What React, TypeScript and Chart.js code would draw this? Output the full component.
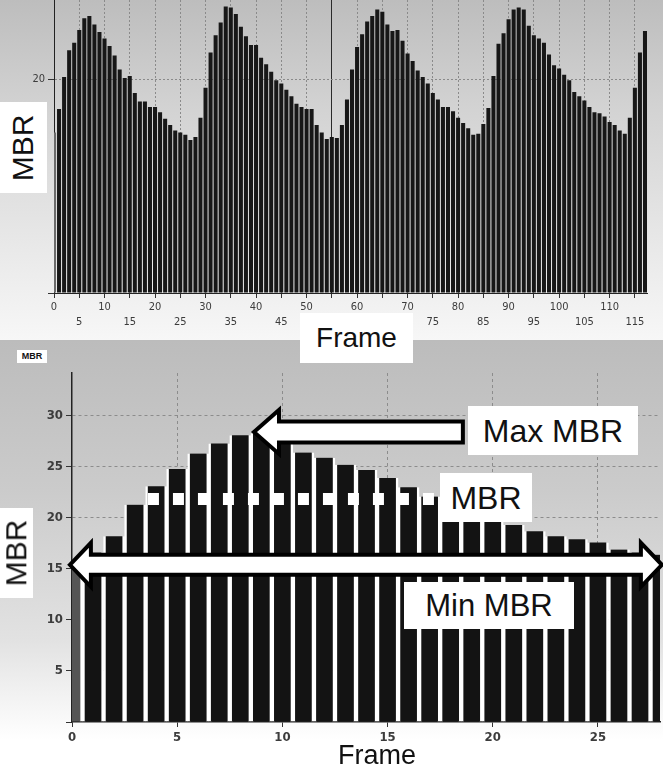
import React, { useEffect, useRef } from 'react';
import { Chart, registerables } from 'chart.js';

Chart.register(...registerables);

// ---------- Upper panel data ----------
const TOP_FRAMES = [
  0, 1, 2, 3, 4, 5, 6, 7, 8, 9, 10, 11, 12, 13, 14, 15, 16, 17, 18, 19,
  20, 21, 22, 23, 24, 25, 26, 27, 28, 29, 30, 31, 32, 33, 34, 35, 36, 37, 38, 39,
  40, 41, 42, 43, 44, 45, 46, 47, 48, 49, 50, 51, 52, 53, 54, 55, 56, 57, 58, 59,
  60, 61, 62, 63, 64, 65, 66, 67, 68, 69, 70, 71, 72, 73, 74, 75, 76, 77, 78, 79,
  80, 81, 82, 83, 84, 85, 86, 87, 88, 89, 90, 91, 92, 93, 94, 95, 96, 97, 98, 99,
  100, 101, 102, 103, 104, 105, 106, 107, 108, 109, 110, 111, 112, 113, 114, 115, 116, 117,
];
const TOP_MBR = [
  15.0, 17.2, 20.2, 22.7, 23.4, 24.6, 25.7, 25.9, 25.1, 24.4,
  23.8, 23.1, 22.2, 20.9, 20.1, 20.3, 18.7, 17.9, 17.9, 17.4,
  17.4, 16.9, 16.3, 15.7, 15.2, 15.0, 14.8, 14.3, 14.6, 16.4,
  19.2, 22.5, 24.1, 25.3, 26.8, 26.7, 26.1, 24.9, 24.0, 23.2,
  23.2, 22.0, 21.4, 20.7, 19.9, 19.6, 19.0, 18.4, 17.7, 17.4,
  17.2, 17.2, 15.7, 15.0, 14.4, 14.6, 14.5, 15.7, 18.1, 20.9,
  23.0, 24.2, 25.4, 25.9, 26.5, 26.3, 25.1, 24.5, 24.6, 23.6,
  22.4, 21.7, 20.8, 20.2, 19.6, 18.7, 18.1, 17.4, 17.4, 17.0,
  16.4, 15.9, 15.4, 14.8, 14.9, 15.8, 17.3, 20.3, 23.3, 24.3,
  25.6, 26.5, 26.7, 26.5, 25.0, 24.1, 23.8, 23.4, 22.3, 21.3,
  21.0, 20.4, 19.9, 18.8, 18.4, 18.0, 17.4, 16.9, 16.8, 16.5,
  16.0, 15.7, 15.2, 14.9, 16.4, 19.2, 22.5, 24.5,
];
const TOP_X_TICKS = [0, 5, 10, 15, 20, 25, 30, 35, 40, 45, 50, 55, 60, 65, 70, 75, 80, 85, 90, 95, 100, 105, 110, 115];
const TOP_Y_TICKS = [0, 20];
const TOP_CURSOR_FRAME = 55;

// ---------- Lower panel data ----------
const BOTTOM_FRAMES = [
  0, 1, 2, 3, 4, 5, 6, 7, 8, 9, 10, 11, 12, 13, 14,
  15, 16, 17, 18, 19, 20, 21, 22, 23, 24, 25, 26, 27, 28,
];
const BOTTOM_MBR = [
  15.4, 16.6, 18.2, 21.3, 23.1, 24.8, 26.3, 27.3, 28.1, 28.3,
  27.7, 26.4, 25.9, 25.2, 24.7, 23.9, 23.0, 22.1, 19.6, 19.6,
  19.6, 19.3, 18.7, 18.2, 17.9, 17.6, 16.9, 16.6, 16.4,
];
const BOTTOM_X_TICKS = [0, 5, 10, 15, 20, 25];
const BOTTOM_Y_TICKS = [0, 5, 10, 15, 20, 25, 30];

// annotation anchors (data units of the lower panel)
const MEAN_MBR = 21.86;
const MEAN_FROM_FRAME = 3.61;
const MEAN_TO_FRAME = 17.4;
const MAX_ARROW_MBR = 28.43;
const MAX_ARROW_TIP_FRAME = 8.65;
const MAX_ARROW_END_FRAME = 18.58;
const MIN_ARROW_MBR = 15.4;
const MIN_ARROW_LEFT_FRAME = -0.1;
const MIN_ARROW_RIGHT_FRAME = 28.04;

const TICK_FONT = "'Liberation Sans Narrow','DejaVu Sans Condensed','Arial Narrow','Liberation Sans',sans-serif";
const LABEL_FONT = "'Liberation Sans',Arial,Helvetica,sans-serif";

const zeroPad = (s: any) => {
  s.paddingTop = 0;
  s.paddingBottom = 0;
  s.paddingLeft = 0;
  s.paddingRight = 0;
};

const annotationPlugin = {
  id: 'mbrAnnotations',
  afterDatasetsDraw(chart: any) {
    const { ctx, scales } = chart;
    const x = scales.x;
    const y = scales.y;
    ctx.save();
    // dashed MBR (mean) line
    const my = y.getPixelForValue(MEAN_MBR);
    ctx.strokeStyle = '#ffffff';
    ctx.lineWidth = 12;
    ctx.lineCap = 'butt';
    ctx.setLineDash([11, 14]);
    ctx.beginPath();
    ctx.moveTo(x.getPixelForValue(MEAN_FROM_FRAME), my);
    ctx.lineTo(x.getPixelForValue(MEAN_TO_FRAME), my);
    ctx.stroke();
    ctx.setLineDash([]);

    ctx.lineJoin = 'miter';
    ctx.lineWidth = 4;
    ctx.strokeStyle = '#000000';
    ctx.fillStyle = '#ffffff';

    // Max MBR arrow (pointing left)
    const ty = y.getPixelForValue(MAX_ARROW_MBR);
    const tx = x.getPixelForValue(MAX_ARROW_TIP_FRAME);
    const ex = x.getPixelForValue(MAX_ARROW_END_FRAME);
    const hl = 25, hh = 22, sh = 10.5;
    ctx.beginPath();
    ctx.moveTo(tx, ty);
    ctx.lineTo(tx + hl, ty - hh);
    ctx.lineTo(tx + hl, ty - sh);
    ctx.lineTo(ex, ty - sh);
    ctx.lineTo(ex, ty + sh);
    ctx.lineTo(tx + hl, ty + sh);
    ctx.lineTo(tx + hl, ty + hh);
    ctx.closePath();
    ctx.fill();
    ctx.stroke();

    // Min MBR double arrow
    const ay = y.getPixelForValue(MIN_ARROW_MBR);
    const lx = x.getPixelForValue(MIN_ARROW_LEFT_FRAME);
    const rx = x.getPixelForValue(MIN_ARROW_RIGHT_FRAME);
    const hl2 = 21, hh2 = 22, sh2 = 10;
    ctx.beginPath();
    ctx.moveTo(lx, ay);
    ctx.lineTo(lx + hl2, ay - hh2);
    ctx.lineTo(lx + hl2, ay - sh2);
    ctx.lineTo(rx - hl2, ay - sh2);
    ctx.lineTo(rx - hl2, ay - hh2);
    ctx.lineTo(rx, ay);
    ctx.lineTo(rx - hl2, ay + hh2);
    ctx.lineTo(rx - hl2, ay + sh2);
    ctx.lineTo(lx + hl2, ay + sh2);
    ctx.lineTo(lx + hl2, ay + hh2);
    ctx.closePath();
    ctx.fill();
    ctx.stroke();
    ctx.restore();
  },
};

const boxStyle = (left: number, top: number, width: number, height: number, fontSize: number): React.CSSProperties => ({
  position: 'absolute',
  left,
  top,
  width,
  height,
  background: '#ffffff',
  display: 'flex',
  alignItems: 'center',
  justifyContent: 'center',
  fontFamily: LABEL_FONT,
  fontSize,
  color: '#111111',
  whiteSpace: 'nowrap',
  lineHeight: 1,
});

export default function App() {
  const topRef = useRef<HTMLCanvasElement>(null);
  const botRef = useRef<HTMLCanvasElement>(null);

  useEffect(() => {
    document.body.style.margin = '0';

    const top = new Chart(topRef.current as HTMLCanvasElement, {
      type: 'bar',
      data: {
        datasets: [
          {
            data: TOP_FRAMES.map((f, i) => ({ x: f, y: TOP_MBR[i] })),
            backgroundColor: TOP_FRAMES.map((f) => (f === 0 ? '#6b6b6b' : '#171717')),
            borderWidth: 0,
            barPercentage: 0.8,
            categoryPercentage: 1,
          } as any,
        ],
      },
      options: {
        responsive: false,
        animation: false,
        devicePixelRatio: 1,
        layout: { padding: { left: 0, right: 16, top: 0, bottom: 0 } },
        plugins: { legend: { display: false }, tooltip: { enabled: false } },
        scales: {
          x: {
            type: 'linear',
            min: 0,
            max: 117.4,
            offset: false,
            afterBuildTicks: (s: any) => {
              s.ticks = TOP_X_TICKS.map((v) => ({ value: v }));
            },
            afterFit: (s: any) => {
              s.height = 47;
              zeroPad(s);
            },
            ticks: {
              autoSkip: false,
              maxRotation: 0,
              minRotation: 0,
              padding: 1,
              color: '#3c3c3c',
              font: { family: TICK_FONT, size: 11, lineHeight: 1.4 },
              callback: (v: any) => (Number(v) % 10 === 0 ? String(v) : ['', String(v)]),
            },
            grid: {
              offset: false,
              color: (c: any) =>
                c.tick && c.tick.value === 0
                  ? 'rgba(0,0,0,0)'
                  : c.tick && c.tick.value === TOP_CURSOR_FRAME
                  ? '#2a2a2a'
                  : '#8a8a8a',
              lineWidth: 1,
              tickLength: 5,
              tickColor: '#333333',
            },
            border: {
              color: '#222222',
              width: 1,
              dash: (c: any) => (c.tick && c.tick.value !== TOP_CURSOR_FRAME ? [2, 2] : []),
            },
          } as any,
          y: {
            min: 0,
            max: 27.4,
            afterBuildTicks: (s: any) => {
              s.ticks = TOP_Y_TICKS.map((v) => ({ value: v }));
            },
            afterFit: (s: any) => {
              s.width = 54;
              zeroPad(s);
            },
            ticks: {
              padding: 3,
              color: '#3c3c3c',
              font: { family: TICK_FONT, size: 11 },
              callback: (v: any) => (Number(v) === 0 ? '' : String(v)),
            },
            grid: {
              color: (c: any) => (c.tick && c.tick.value === 20 ? '#8a8a8a' : 'rgba(0,0,0,0)'),
              tickLength: 6,
              tickColor: '#333333',
            },
            border: { color: '#222222', width: 1, dash: (c: any) => (c.tick ? [2, 2] : []) },
          } as any,
        },
      },
    });

    const bottom = new Chart(botRef.current as HTMLCanvasElement, {
      type: 'bar',
      data: {
        datasets: [
          {
            data: BOTTOM_FRAMES.map((f, i) => ({ x: f, y: BOTTOM_MBR[i] })),
            backgroundColor: BOTTOM_FRAMES.map((f) => (f === 0 ? '#555555' : '#131313')),
            borderColor: '#ffffff',
            borderWidth: { left: 2.5, right: 2.5, top: 0, bottom: 0 },
            borderSkipped: 'start',
            barPercentage: 1,
            categoryPercentage: 1,
          } as any,
        ],
      },
      options: {
        responsive: false,
        animation: false,
        devicePixelRatio: 1,
        layout: { padding: { left: 0, right: 3, top: 33, bottom: 0 } },
        plugins: { legend: { display: false }, tooltip: { enabled: false } },
        scales: {
          x: {
            type: 'linear',
            min: 0,
            max: 27.95,
            offset: false,
            afterBuildTicks: (s: any) => {
              s.ticks = BOTTOM_X_TICKS.map((v) => ({ value: v }));
            },
            afterFit: (s: any) => {
              s.height = 47;
              zeroPad(s);
            },
            ticks: {
              autoSkip: false,
              maxRotation: 0,
              minRotation: 0,
              padding: 3,
              color: '#3c3c3c',
              font: { family: TICK_FONT, size: 13, weight: 'bold' },
            },
            grid: {
              offset: false,
              color: (c: any) => (c.tick && c.tick.value === 0 ? 'rgba(0,0,0,0)' : '#8c8c8c'),
              lineWidth: 1,
              tickLength: 5,
              tickColor: '#333333',
            },
            border: { color: '#222222', width: 1.5, dash: (c: any) => (c.tick ? [3, 3] : []) },
          } as any,
          y: {
            min: 0,
            max: 34.2,
            afterBuildTicks: (s: any) => {
              s.ticks = BOTTOM_Y_TICKS.map((v) => ({ value: v }));
            },
            afterFit: (s: any) => {
              s.width = 72;
              zeroPad(s);
            },
            ticks: {
              padding: 3,
              color: '#3c3c3c',
              font: { family: TICK_FONT, size: 13, weight: 'bold' },
              callback: (v: any) => (Number(v) === 0 ? '' : String(v)),
            },
            grid: {
              color: (c: any) => (c.tick && c.tick.value === 0 ? 'rgba(0,0,0,0)' : '#8c8c8c'),
              tickLength: 6,
              tickColor: '#333333',
            },
            border: { color: '#222222', width: 1.5, dash: (c: any) => (c.tick ? [3, 3] : []) },
          } as any,
        },
      },
      plugins: [annotationPlugin],
    });

    return () => {
      top.destroy();
      bottom.destroy();
    };
  }, []);

  return (
    <div style={{ position: 'relative', width: 663, height: 769, overflow: 'hidden', background: '#ffffff' }}>
      <div
        style={{
          position: 'absolute',
          left: 0,
          top: 0,
          width: 663,
          height: 340,
          background: 'linear-gradient(to bottom, #bdbdbd 0px, #d3d3d3 110px, #e9e9e9 250px, #f7f7f7 340px)',
        }}
      />
      <div
        style={{
          position: 'absolute',
          left: 0,
          top: 340,
          width: 663,
          height: 429,
          background: 'linear-gradient(to bottom, #bcbcbc 0px, #cbcbcb 150px, #e2e2e2 300px, #ffffff 400px)',
        }}
      />
      <canvas ref={topRef} width={663} height={340} style={{ position: 'absolute', left: 0, top: 0, width: 663, height: 340 }} />
      <canvas ref={botRef} width={663} height={429} style={{ position: 'absolute', left: 0, top: 340, width: 663, height: 429 }} />

      {/* upper panel labels */}
      <div style={boxStyle(0, 102, 47, 91, 30)}>
        <span style={{ transform: 'rotate(-90deg)', display: 'inline-block' }}>MBR</span>
      </div>
      <div style={boxStyle(300, 313, 113, 50, 28)}>Frame</div>

      {/* lower panel labels */}
      <div style={{ ...boxStyle(17, 350, 30, 13, 9), fontWeight: 'bold' }}>MBR</div>
      <div style={boxStyle(0, 508, 33, 90, 30)}>
        <span style={{ transform: 'rotate(-90deg)', display: 'inline-block' }}>MBR</span>
      </div>
      <div style={boxStyle(468, 406, 170, 49, 32)}>Max MBR</div>
      <div style={boxStyle(440, 473, 92, 49, 32)}>MBR</div>
      <div style={boxStyle(404, 582, 170, 47, 31)}>Min MBR</div>
      <div
        style={{
          position: 'absolute',
          left: 327,
          top: 741,
          width: 100,
          height: 28,
          textAlign: 'center',
          fontFamily: LABEL_FONT,
          fontSize: 27,
          lineHeight: '28px',
          color: '#111111',
        }}
      >
        Frame
      </div>
    </div>
  );
}
